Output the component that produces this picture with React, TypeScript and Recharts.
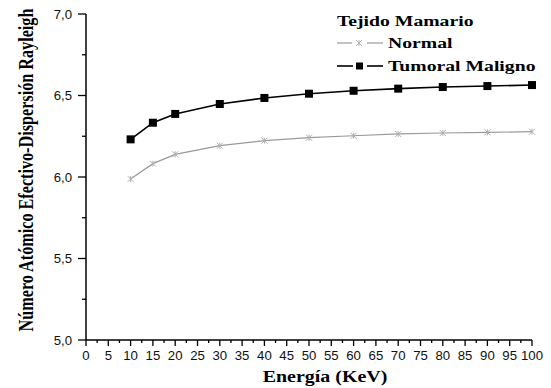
import React from 'react';
import { LineChart, Line, XAxis, YAxis, Label } from 'recharts';

// Energía (KeV) at which the effective atomic number was computed
const ENERGY = [10, 15, 20, 30, 40, 50, 60, 70, 80, 90, 100];
// Tejido mamario normal
const NORMAL = [5.988, 6.082, 6.139, 6.192, 6.223, 6.241, 6.253, 6.264, 6.27, 6.274, 6.278];
// Tejido tumoral maligno
const TUMORAL = [6.231, 6.333, 6.387, 6.448, 6.485, 6.511, 6.529, 6.542, 6.552, 6.558, 6.564];

const X_MAJOR_TICKS = [0, 5, 10, 15, 20, 25, 30, 35, 40, 45, 50, 55, 60, 65, 70, 75, 80, 85, 90, 95, 100];
const Y_MAJOR_TICKS = [5.0, 5.5, 6.0, 6.5, 7.0];

// minor ticks halfway between majors
const X_TICKS = X_MAJOR_TICKS.flatMap((t, i) =>
  i < X_MAJOR_TICKS.length - 1 ? [t, (t + X_MAJOR_TICKS[i + 1]) / 2] : [t]
);
const Y_TICKS = Y_MAJOR_TICKS.flatMap((t, i) =>
  i < Y_MAJOR_TICKS.length - 1 ? [t, (t + Y_MAJOR_TICKS[i + 1]) / 2] : [t]
);

const chartData = ENERGY.map((e, i) => ({
  energy: e,
  normal: NORMAL[i],
  tumoral: TUMORAL[i],
}));

const SANS = 'Liberation Sans, Arial, sans-serif';
const SERIF = 'Liberation Serif, Times New Roman, serif';
const GRAY = '#9a9a9a';

const XTick = ({ x, y, payload }: any) => {
  const major = X_MAJOR_TICKS.includes(payload.value);
  return (
    <g>
      <line x1={x} x2={x} y1={y} y2={y + (major ? 6 : 3)} stroke="#000" strokeWidth={1.3} />
      {major && (
        <text
          transform={`translate(${x},${y + 20}) scale(1.1,1)`}
          textAnchor="middle"
          fontSize={12}
          fontFamily={SANS}
          fill="#111"
        >
          {payload.value}
        </text>
      )}
    </g>
  );
};

const YTick = ({ x, y, payload }: any) => {
  const major = Y_MAJOR_TICKS.includes(payload.value);
  return (
    <g>
      <line x1={x - (major ? 8 : 4)} x2={x} y1={y} y2={y} stroke="#000" strokeWidth={1.3} />
      {major && (
        <text
          transform={`translate(${x - 14},${y + 4.5}) scale(1.1,1)`}
          textAnchor="end"
          fontSize={12}
          fontFamily={SANS}
          fill="#111"
        >
          {payload.value.toFixed(1).replace('.', ',')}
        </text>
      )}
    </g>
  );
};

const StarDot = ({ cx, cy }: any) => (
  <g stroke="#b0b0b0" strokeWidth={1}>
    <line x1={cx - 3} y1={cy - 3} x2={cx + 3} y2={cy + 3} />
    <line x1={cx - 3} y1={cy + 3} x2={cx + 3} y2={cy - 3} />
    <line x1={cx} y1={cy - 3} x2={cx} y2={cy + 3} />
  </g>
);

const SquareDot = ({ cx, cy }: any) => (
  <rect x={cx - 4} y={cy - 4} width={8} height={8} fill="#000" />
);

const legendText: React.CSSProperties = {
  display: 'inline-block',
  transform: 'scaleX(1.27)',
  transformOrigin: 'left center',
  whiteSpace: 'nowrap',
};

const LegendBox = () => (
  <div
    style={{
      position: 'absolute',
      left: 337,
      top: 10,
      fontFamily: SERIF,
      fontWeight: 'bold',
      fontSize: 15.5,
      color: '#000',
      lineHeight: '22px',
    }}
  >
    <div style={{ height: 21 }}>
      <span style={legendText}>Tejido Mamario</span>
    </div>
    <div style={{ display: 'flex', alignItems: 'center', height: 23 }}>
      <svg width={51} height={22}>
        <line x1={0} x2={15} y1={11} y2={11} stroke={GRAY} strokeWidth={1.2} />
        <StarDot cx={22} cy={11} />
        <line x1={30} x2={46} y1={11} y2={11} stroke={GRAY} strokeWidth={1.2} />
      </svg>
      <span style={legendText}>Normal</span>
    </div>
    <div style={{ display: 'flex', alignItems: 'center', height: 23 }}>
      <svg width={51} height={22}>
        <line x1={0} x2={16} y1={11} y2={11} stroke="#000" strokeWidth={1.6} />
        <rect x={19} y={7.5} width={7} height={7} fill="#000" />
        <line x1={30} x2={46} y1={11} y2={11} stroke="#000" strokeWidth={1.6} />
      </svg>
      <span style={legendText}>Tumoral Maligno</span>
    </div>
  </div>
);

const App = () => (
  <div style={{ position: 'absolute', left: 0, top: 0, width: 551, height: 388, background: '#fff' }}>
    <LineChart width={551} height={388} data={chartData} margin={{ top: 14, right: 19, bottom: 0, left: 0 }}>
      <XAxis
        dataKey="energy"
        type="number"
        domain={[0, 100]}
        ticks={X_TICKS}
        interval={0}
        height={48}
        tickSize={0}
        tickMargin={0}
        tickLine={false}
        tick={<XTick />}
        stroke="#000"
        strokeWidth={1.5}
      >
        <Label
          content={({ viewBox }: any) => (
            <text
              transform={`translate(${viewBox.x + viewBox.width / 2 + 16},382) scale(1.14,1)`}
              textAnchor="middle"
              fontFamily={SERIF}
              fontWeight="bold"
              fontSize={17.5}
              fill="#000"
            >
              Energía (KeV)
            </text>
          )}
        />
      </XAxis>
      <YAxis
        type="number"
        domain={[5, 7]}
        ticks={Y_TICKS}
        interval={0}
        width={86}
        tickSize={0}
        tickMargin={0}
        tickLine={false}
        tick={<YTick />}
        stroke="#000"
        strokeWidth={1.5}
      >
        <Label
          content={({ viewBox }: any) => {
            const cy = viewBox.y + viewBox.height / 2 - 7;
            return (
              <text
                transform={`translate(33,${cy}) rotate(-90) scale(1,1.3)`}
                textAnchor="middle"
                fontFamily={SERIF}
                fontWeight="bold"
                fontSize={16.2}
                fill="#000"
              >
                Número Atómico Efectivo-Dispersión Rayleigh
              </text>
            );
          }}
        />
      </YAxis>
      <Line
        dataKey="normal"
        name="Normal"
        stroke={GRAY}
        strokeWidth={1.2}
        dot={<StarDot />}
        isAnimationActive={false}
      />
      <Line
        dataKey="tumoral"
        name="Tumoral Maligno"
        stroke="#000"
        strokeWidth={1.6}
        dot={<SquareDot />}
        isAnimationActive={false}
      />
    </LineChart>
    <LegendBox />
  </div>
);

export default App;
